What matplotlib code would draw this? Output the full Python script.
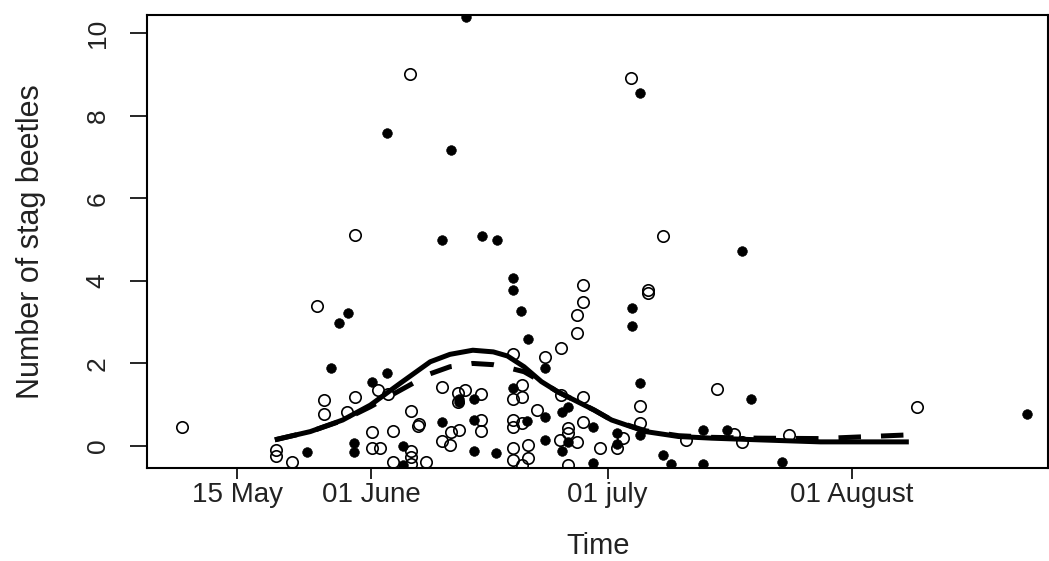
import matplotlib
matplotlib.use("Agg")
import matplotlib.pyplot as plt
import numpy as np

# ---- data (day of year, count) ----
open_day = [128.0, 156.9, 150.0, 185.0, 189.0, 145.1, 139.9, 139.9, 142.0, 146.0,
            146.0, 148.9, 150.0, 152.9, 154.2, 152.1, 154.8, 152.1, 153.1, 157.0,
            157.9, 158.1, 157.1, 157.1, 157.1, 154.8, 159.0, 161.0, 163.9, 163.0,
            163.0, 166.0, 161.0, 162.1, 163.1, 162.0, 166.0, 166.0, 170.0, 171.1,
            171.1, 170.0, 170.0, 171.1, 170.0, 170.0, 170.0, 171.1, 171.9, 171.9,
            173.1, 174.0, 176.1, 178.1, 178.1, 178.9, 178.9, 178.9, 178.9, 176.1,
            177.0, 177.0, 176.0, 178.1, 177.0, 181.0, 184.0, 183.2, 186.1, 186.1,
            187.1, 187.1, 192.0, 195.9, 198.0, 199.0, 205.0, 221.2]
open_count = [0.45, 9.01, 5.12, 8.92, 5.08, 3.39, -0.10, -0.24, -0.39, 1.11,
              0.77, 0.83, 1.19, 1.36, 1.26, 0.33, 0.36, -0.04, -0.05, 0.85,
              0.48, 0.53, -0.12, -0.27, -0.44, -0.38, -0.39, 1.44, 1.36, 1.28,
              1.07, 1.26, 0.13, 0.34, 0.38, 0.02, 0.63, 0.36, 2.24, 1.48,
              1.19, 1.15, 0.63, 0.56, 0.47, -0.06, -0.34, -0.46, 0.02, -0.30,
              0.87, 2.16, 2.37, 2.73, 3.17, 3.49, 3.90, 1.19, 0.59, 1.23,
              0.43, 0.31, 0.15, 0.10, -0.46, -0.04, 0.19, -0.06, 0.97, 0.55,
              3.78, 3.70, 0.15, 1.38, 0.28, 0.10, 0.27, 0.95]

filled_day = [154.0, 164.0, 186.1, 162.1, 161.0, 166.1, 168.0, 199.0, 147.9, 149.1,
              146.9, 170.0, 170.0, 171.0, 171.9, 152.1, 154.0, 163.1, 163.1, 165.0,
              161.0, 165.0, 149.8, 149.8, 143.9, 156.1, 156.1, 165.0, 167.9, 170.0,
              171.8, 174.1, 174.1, 174.1, 176.2, 177.0, 176.2, 177.0, 180.1, 180.1,
              185.1, 185.1, 186.1, 186.1, 183.2, 183.2, 189.0, 190.1, 194.1, 194.1,
              200.2, 197.1, 204.1, 235.2]
filled_count = [7.59, 10.39, 8.56, 7.17, 5.00, 5.08, 5.00, 4.73, 2.99, 3.21,
                1.88, 4.06, 3.79, 3.27, 2.60, 1.56, 1.76, 1.15, 1.07, 1.15,
                0.59, 0.63, 0.07, -0.14, -0.15, 0.01, -0.46, -0.12, -0.17, 1.40,
                0.61, 1.90, 0.71, 0.15, 0.83, 0.95, -0.11, 0.10, 0.46, -0.40,
                3.35, 2.91, 1.53, 0.27, 0.32, 0.05, -0.22, -0.44, 0.39, -0.44,
                1.13, 0.38, -0.39, 0.77]

# fitted curves
fit_day = [139.8, 144.3, 148.4, 151.9, 155.7, 159.5, 162.0, 164.9, 167.5, 169.3,
           171.4, 173.6, 175.7, 177.8, 180.3, 182.5, 186.8, 191.0, 195.2, 201.1,
           209.0, 220.2]
fit_solid = [0.15, 0.35, 0.63, 0.99, 1.52, 2.04, 2.22, 2.32, 2.28, 2.18,
             1.92, 1.56, 1.31, 1.11, 0.87, 0.63, 0.35, 0.23, 0.19, 0.15,
             0.10, 0.10]
fit_dashed = [0.15, 0.35, 0.62, 0.95, 1.35, 1.75, 1.92, 2.00, 1.97, 1.90,
              1.80, 1.56, 1.31, 1.11, 0.87, 0.63, 0.37, 0.25, 0.21, 0.19,
              0.18, 0.27]

xtick_days = [135, 152, 182, 213]
xtick_labels = ["15 May", "01 June", "01 july", "01 August"]
ytick_vals = [0, 2, 4, 6, 8, 10]

# ---- figure ----
fig = plt.figure(figsize=(10.49, 5.61), dpi=100)
ax = fig.add_axes([147.3 / 1049, 1 - 468.3 / 561, (1048 - 147.3) / 1049, (468.3 - 15) / 561])

ax.plot(open_day, open_count, linestyle="none", marker="o", markersize=8.2,
        markerfacecolor="none", markeredgecolor="black", markeredgewidth=1.2, zorder=2)
ax.plot(filled_day, filled_count, linestyle="none", marker="o", markersize=7.0,
        markerfacecolor="black", markeredgecolor="black", markeredgewidth=0.4, zorder=2)

ax.plot(fit_day, fit_solid, color="black", linewidth=3.6, solid_capstyle="butt", zorder=3)
ax.plot(fit_day, fit_dashed, color="black", linewidth=3.6, dashes=(4.5, 4),
        dash_capstyle="butt", zorder=3)

ax.set_xlim(123.62, 237.85)
ax.set_ylim(-0.54, 10.44)

for s in ax.spines.values():
    s.set_linewidth(1.5)
    s.set_color("black")

regular = ["Liberation Sans", "DejaVu Sans"]

ax.set_xticks(xtick_days)
ax.set_xticklabels(xtick_labels, fontsize=20, family=regular, color="#222222")
ax.set_yticks(ytick_vals)
ax.set_yticklabels([str(v) for v in ytick_vals], fontsize=19, family=regular,
                   rotation=90, va="center", color="#222222")
ax.tick_params(axis="x", direction="out", length=8, width=1.2, pad=2)
ax.tick_params(axis="y", direction="out", length=12, width=1.2, pad=15)

ax.set_xlabel("Time", fontsize=21, family=regular, color="#222222")
ax.xaxis.set_label_coords(0.5, -0.1405)
ax.set_ylabel("Number of stag beetles", fontsize=22, family=regular, color="#222222")
ax.yaxis.set_label_coords(-0.1125, 0.5)

fig.savefig("out.png", dpi=100, facecolor="white")
